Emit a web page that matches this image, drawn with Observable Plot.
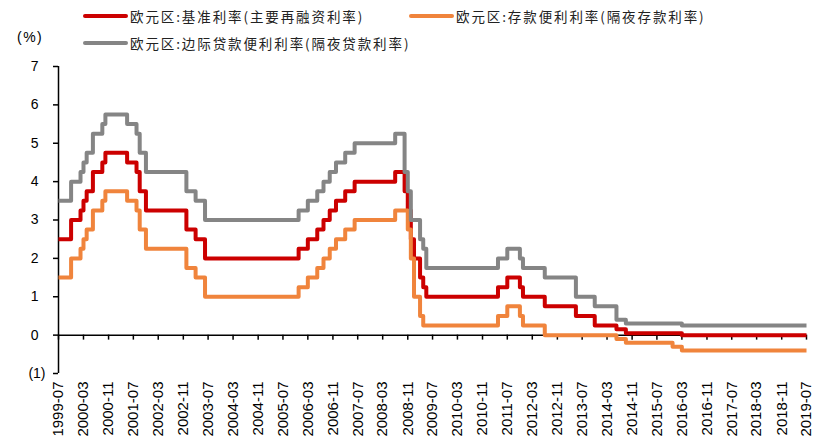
<!DOCTYPE html>
<html><head><meta charset="utf-8">
<script src="https://cdn.jsdelivr.net/npm/d3@7"></script>
<script src="https://cdn.jsdelivr.net/npm/@observablehq/plot@0.6"></script>
<style>
body{margin:0;background:#fff;}
#wrap{position:relative;width:821px;height:447px;overflow:hidden;}
.leg{position:absolute;font-family:"Noto Sans CJK SC",sans-serif;font-size:13.5px;letter-spacing:1.9px;color:#222;white-space:nowrap;line-height:20px;}
.sw{position:absolute;height:4px;width:45px;border-radius:2px;}
.unit{position:absolute;font-family:"Liberation Sans",Arial,sans-serif;font-size:14px;letter-spacing:1.5px;color:#000;line-height:20px;}
#chart{position:absolute;left:0;top:0;}
</style></head><body>
<div id="wrap"><div id="chart"></div></div>
<script>
const seriesNames = ["欧元区:基准利率(主要再融资利率)", "欧元区:存款便利利率(隔夜存款利率)", "欧元区:边际贷款便利利率(隔夜贷款利率)"];
const seriesColors = ["#cc0000", "#f0843c", "#858585"];
const unitLabel = "(%)";

// Main refinancing rate: months where the month-end value changes
const mroMonths = ["1999-07","1999-11","2000-02","2000-03","2000-04","2000-06","2000-09","2000-10","2001-05","2001-08","2001-09","2001-11","2002-12","2003-03","2003-06","2005-12","2006-03","2006-06","2006-08","2006-10","2006-12","2007-03","2007-06","2008-07","2008-10","2008-11","2008-12","2009-01","2009-03","2009-04","2009-05","2011-04","2011-07","2011-11","2011-12","2012-07","2013-05","2013-11","2014-06","2014-09","2016-03","2019-07"];
const mroValues = [2.50,3.00,3.25,3.50,3.75,4.25,4.50,4.75,4.50,4.25,3.75,3.25,2.75,2.50,2.00,2.25,2.50,2.75,3.00,3.25,3.50,3.75,4.00,4.25,3.75,3.25,2.50,2.00,1.50,1.25,1.00,1.25,1.50,1.25,1.00,0.75,0.50,0.25,0.15,0.05,0.00,0.00];

// Deposit facility rate
const depMonths = ["1999-07","1999-11","2000-02","2000-03","2000-04","2000-06","2000-09","2000-10","2001-05","2001-08","2001-09","2001-11","2002-12","2003-03","2003-06","2005-12","2006-03","2006-06","2006-08","2006-10","2006-12","2007-03","2007-06","2008-07","2008-11","2008-12","2009-01","2009-03","2009-04","2011-04","2011-07","2011-11","2011-12","2012-07","2014-06","2014-09","2015-12","2016-03","2019-07"];
const depValues = [1.50,2.00,2.25,2.50,2.75,3.25,3.50,3.75,3.50,3.25,2.75,2.25,1.75,1.50,1.00,1.25,1.50,1.75,2.00,2.25,2.50,2.75,3.00,3.25,2.75,2.00,1.00,0.50,0.25,0.50,0.75,0.50,0.25,0.00,-0.10,-0.20,-0.30,-0.40,-0.40];

// Marginal lending facility rate
const mlfMonths = ["1999-07","1999-11","2000-02","2000-03","2000-04","2000-06","2000-09","2000-10","2001-05","2001-08","2001-09","2001-11","2002-12","2003-03","2003-06","2005-12","2006-03","2006-06","2006-08","2006-10","2006-12","2007-03","2007-06","2008-07","2008-10","2008-11","2008-12","2009-03","2009-04","2009-05","2011-04","2011-07","2011-11","2011-12","2012-07","2013-05","2013-11","2014-06","2014-09","2016-03","2019-07"];
const mlfValues = [3.50,4.00,4.25,4.50,4.75,5.25,5.50,5.75,5.50,5.25,4.75,4.25,3.75,3.50,3.00,3.25,3.50,3.75,4.00,4.25,4.50,4.75,5.00,5.25,4.25,3.75,3.00,2.50,2.25,1.75,2.00,2.25,2.00,1.75,1.50,1.00,0.75,0.40,0.30,0.25,0.25];

const xTickLabels = ["1999-07","2000-03","2000-11","2001-07","2002-03","2002-11","2003-07","2004-03","2004-11","2005-07","2006-03","2006-11","2007-07","2008-03","2008-11","2009-07","2010-03","2010-11","2011-07","2012-03","2012-11","2013-07","2014-03","2014-11","2015-07","2016-03","2016-11","2017-07","2018-03","2018-11","2019-07"];
const yTicks = [-1,0,1,2,3,4,5,6,7];

const parse = d3.utcParse("%Y-%m");
const rows = (months, values, name) => months.map((m, i) => ({date: parse(m), value: values[i], series: name}));
const data = [
  ...rows(mroMonths, mroValues, seriesNames[0]),
  ...rows(depMonths, depValues, seriesNames[1]),
  ...rows(mlfMonths, mlfValues, seriesNames[2])
];
// draw order: gray, orange, red? keep order red, orange, gray as in reference stacking
const xTicks = xTickLabels.map(parse);

const chart = Plot.plot({
  width: 821, height: 447,
  marginLeft: 58, marginRight: 15, marginTop: 66, marginBottom: 74,
  style: {fontFamily: '"Liberation Sans", Arial, sans-serif', fontSize: "14px", color: "#000", background: "#fff"},
  x: {type: "utc", domain: [xTicks[0], xTicks[xTicks.length - 1]], label: null},
  y: {domain: [-1, 7], label: null},
  color: {domain: seriesNames, range: seriesColors},
  marks: [
    Plot.ruleY([0], {stroke: "#000", strokeWidth: 1.5}),
    Plot.ruleX(xTicks, {x: d => d, y1: 0, y2: 0, insetBottom: -5, stroke: "#000", strokeWidth: 1.5}),
    Plot.ruleX([xTicks[0]], {stroke: "#000", strokeWidth: 1.5}),
    Plot.axisY({ticks: yTicks, tickSize: 5, tickPadding: 8, strokeWidth: 1.5, label: null,
      tickFormat: d => d < 0 ? `(${-d})` : `${d}\u2002`}),
    Plot.axisX({ticks: xTicks, tickSize: 0, tickPadding: 8, tickRotate: -90, anchor: "bottom", label: null,
      fontSize: 15, tickFormat: d3.utcFormat("%Y-%m")}),
    Plot.line(data, {x: "date", y: "value", z: "series", stroke: "series", strokeWidth: 4,
      curve: "step-after", strokeLinejoin: "round", strokeLinecap: "butt"})
  ]
});
document.getElementById("chart").appendChild(chart);

const wrap = document.getElementById("wrap");
function addLegend(i, x, y) {
  const sw = document.createElement("div");
  sw.className = "sw";
  sw.style.left = x + "px"; sw.style.top = (y - 2) + "px"; sw.style.background = seriesColors[i];
  wrap.appendChild(sw);
  const t = document.createElement("div");
  t.className = "leg";
  t.style.left = (x + 47) + "px"; t.style.top = (y - 10) + "px";
  t.textContent = seriesNames[i];
  wrap.appendChild(t);
}
addLegend(0, 83, 16);
addLegend(1, 409, 16);
addLegend(2, 83, 43);
const u = document.createElement("div");
u.className = "unit"; u.style.left = "17px"; u.style.top = "27px"; u.textContent = unitLabel;
wrap.appendChild(u);
</script>
</body></html>
